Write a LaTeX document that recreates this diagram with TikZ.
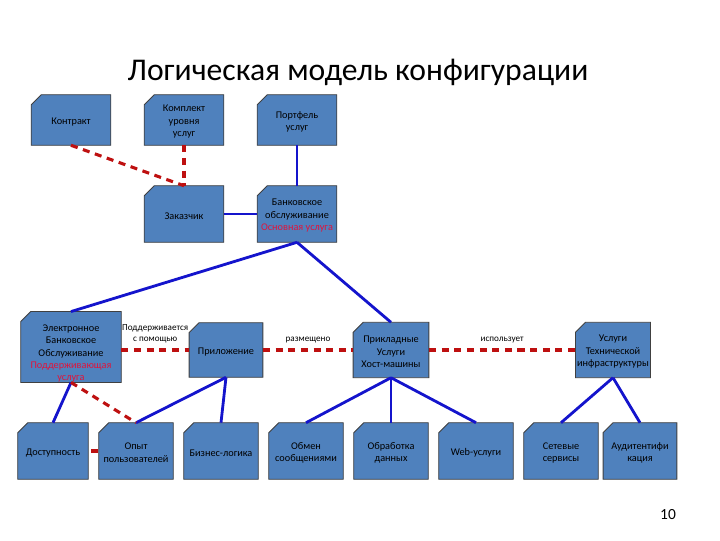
\documentclass[tikz,border=0pt]{standalone}
\usepackage{fontspec}
\setmainfont{Carlito}
\usetikzlibrary{calc, backgrounds}

\definecolor{boxblue}{HTML}{4F81BD}
\definecolor{linkblue}{HTML}{1414CC}
\definecolor{linkred}{HTML}{BE1010}
\definecolor{notered}{HTML}{E0143C}

\tikzset{
  unit/.style={rectangle, align=center, font=\fontsize{7.3}{8.8}\selectfont,
    inner sep=1pt, minimum width=1.85cm, minimum height=1.4cm},
  unitshape/.style={fill=boxblue, draw=black!75, line width=0.6pt},
  uses/.style={draw=linkblue, line width=2pt},
  relates/.style={draw=linkred, line width=2.2pt, dash pattern=on 5pt off 4pt},
  tag/.style={font=\fontsize{6.5}{7.5}\selectfont, align=center, inner sep=1pt}
}

\begin{document}
\begin{tikzpicture}[x=0.025cm, y=-0.025cm]
    \useasboundingbox (0,0) rectangle (720,540);

    % Title
    \node[font=\fontsize{22.5}{26}\selectfont] (title) at (358,72) {Логическая модель конфигурации};

    % Top rows (the leading empty line pushes the text a little down, as in the slide)
    \node[unit, minimum width=1.975cm, minimum height=1.25cm] (contract) at (71,120) {\\[-1.5pt]Контракт};
    \node[unit, minimum width=1.975cm, minimum height=1.25cm] (sla) at (184,120) {\\[-1.5pt]Комплект\\уровня\\услуг};
    \node[unit, minimum width=1.975cm, minimum height=1.25cm] (portfolio) at (297,120) {\\[-1.5pt]Портфель\\услуг};
    \node[unit, minimum width=1.975cm] (customer) at (184,214) {\\[-1.5pt]Заказчик};
    \node[unit, minimum width=1.975cm] (banking) at (297,214)
        {\\[-1.5pt]Банковское\\обслуживание\\\textcolor{notered}{Основная услуга}};

    % Middle row (text of the first box runs over its lower edge)
    \node[unit, minimum width=2.5cm, minimum height=1.57cm, text height=48pt, text depth=-10pt] (ebanking) at (71,347)
        {Электронное\\Банковское\\Обслуживание\\\textcolor{notered}{Поддерживающая}\\\textcolor{notered}{услуга}};
    \node[unit, minimum width=1.83cm, minimum height=1.35cm] (app) at (226,350) {\\[-1.5pt]Приложение};
    \node[unit, minimum width=1.88cm, minimum height=1.37cm] (hosting) at (391,350) {\\[-1.5pt]Прикладные\\Услуги\\Хост-машины};
    \node[unit, minimum width=1.85cm, minimum height=1.37cm] (infra) at (613,350) {\\[-1.5pt]Услуги\\Технической\\инфраструктуры};

    % Bottom row
    \node[unit, minimum width=1.75cm] (avail) at (53,451) {\\[-1.5pt]Доступность};
    \node[unit] (ux) at (136,451) {\\[-1.5pt]Опыт\\пользователей};
    \node[unit] (logic) at (221,451) {\\[-1.5pt]Бизнес-логика};
    \node[unit] (msg) at (306,451) {\\[-1.5pt]Обмен\\сообщениями};
    \node[unit] (data) at (391,451) {\\[-1.5pt]Обработка\\данных};
    \node[unit] (web) at (476,451) {\\[-1.5pt]Web-услуги};
    \node[unit] (net) at (561,451) {\\[-1.5pt]Сетевые\\сервисы};
    \node[unit, minimum width=1.83cm] (auth) at (640,451) {\\[-1.5pt]Аудитентифи\\кация};

    % Box outlines with the cut corner
    \begin{scope}[on background layer]
    \foreach \n in {contract, sla, portfolio, customer, banking, ebanking, app, hosting, infra,
                    avail, ux, logic, msg, data, web, net, auth}
        \draw[unitshape] ($(\n.north west)+(0,10)$) -- ($(\n.north west)+(10,0)$)
            -- (\n.north east) -- (\n.south east) -- (\n.south west) -- cycle;
    \end{scope}

    % Blue links
    \draw[uses] (portfolio.south) -- (banking.north);
    \draw[uses] (customer.east) -- (banking.west);
    \draw[uses] (banking.south) -- (ebanking.north);
    \draw[uses] (banking.south) -- (hosting.north);
    \draw[uses] (ebanking.south) -- (avail.north);
    \draw[uses] (app.south) -- (ux.north);
    \draw[uses] (app.south) -- (logic.north);
    \draw[uses] (hosting.south) -- (msg.north);
    \draw[uses] (hosting.south) -- (data.north);
    \draw[uses] (hosting.south) -- (web.north);
    \draw[uses] (infra.south) -- (net.north);
    \draw[uses] (infra.south) -- (auth.north);

    % Red dashed links
    \draw[relates] (contract.south) -- (customer.north);
    \draw[relates] (sla.south) -- (customer.north);
    \draw[relates] (ebanking.east |- app.west) -- (app.west)
        node[tag, midway, above=3pt] {Поддерживается\\с помощью};
    \draw[relates] (app.east) -- (hosting.west) node[tag, midway, above=3pt] {размещено};
    \draw[relates] (hosting.east) -- (infra.west) node[tag, midway, above=3pt] {использует};
    \draw[relates] (ebanking.south) -- (ux.north);
    \draw[relates, dash phase=-2pt] (avail.east) -- (ux.west);

    % Page number
    \node[font=\fontsize{11}{13}\selectfont] (page) at (668,515) {10};
\end{tikzpicture}
\end{document}
